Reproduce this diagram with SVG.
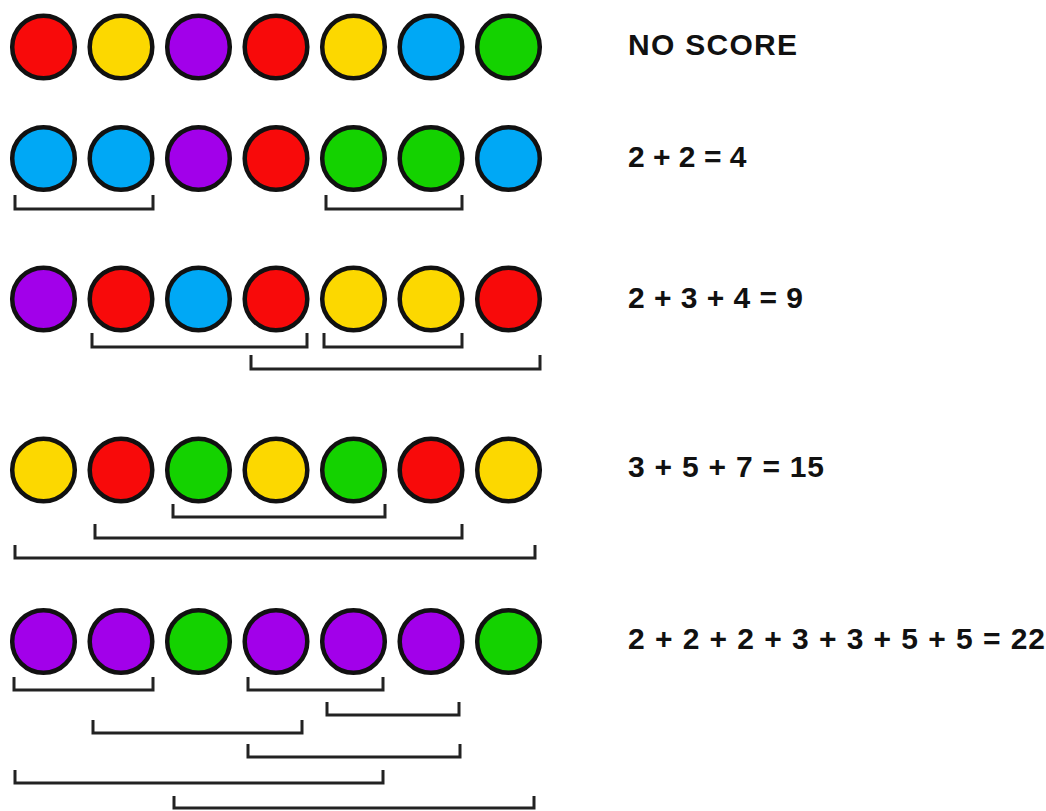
<svg xmlns="http://www.w3.org/2000/svg" width="1046" height="811" viewBox="0 0 1046 811">
<style>
.b{stroke:#111;stroke-width:4.5}
.r{fill:#f80a0a}.y{fill:#fcd800}.p{fill:#a200ea}.c{fill:#00a8f5}.g{fill:#14d200}
.br{fill:none;stroke:#222;stroke-width:3}
.t{font-family:"Liberation Sans",Arial,sans-serif;font-weight:bold;font-size:30px;fill:#111}
</style>
<rect width="1046" height="811" fill="#fff"/>
<defs>
<circle id="o" r="31.3"/>
</defs>
<g id="row1" transform="translate(0,47)">
<use href="#o" x="43.5" class="b r"/><use href="#o" x="121" class="b y"/><use href="#o" x="198.5" class="b p"/><use href="#o" x="276" class="b r"/><use href="#o" x="353.5" class="b y"/><use href="#o" x="431" class="b c"/><use href="#o" x="508.5" class="b g"/>
</g>
<g id="row2" transform="translate(0,158.5)">
<use href="#o" x="43.5" class="b c"/><use href="#o" x="121" class="b c"/><use href="#o" x="198.5" class="b p"/><use href="#o" x="276" class="b r"/><use href="#o" x="353.5" class="b g"/><use href="#o" x="431" class="b g"/><use href="#o" x="508.5" class="b c"/>
</g>
<g id="row3" transform="translate(0,299)">
<use href="#o" x="43.5" class="b p"/><use href="#o" x="121" class="b r"/><use href="#o" x="198.5" class="b c"/><use href="#o" x="276" class="b r"/><use href="#o" x="353.5" class="b y"/><use href="#o" x="431" class="b y"/><use href="#o" x="508.5" class="b r"/>
</g>
<g id="row4" transform="translate(0,470)">
<use href="#o" x="43.5" class="b y"/><use href="#o" x="121" class="b r"/><use href="#o" x="198.5" class="b g"/><use href="#o" x="276" class="b y"/><use href="#o" x="353.5" class="b g"/><use href="#o" x="431" class="b r"/><use href="#o" x="508.5" class="b y"/>
</g>
<g id="row5" transform="translate(0,641.5)">
<use href="#o" x="43.5" class="b p"/><use href="#o" x="121" class="b p"/><use href="#o" x="198.5" class="b g"/><use href="#o" x="276" class="b p"/><use href="#o" x="353.5" class="b p"/><use href="#o" x="431" class="b p"/><use href="#o" x="508.5" class="b g"/>
</g>
<g id="brackets" class="br">
<path d="M15 195V209H153V195"/>
<path d="M326 195V209H462V195"/>
<path d="M92 333V347H307V333"/>
<path d="M324 333V347H462V333"/>
<path d="M251 355V369H540V355"/>
<path d="M173 504V517H385V504"/>
<path d="M95 524V538H462V524"/>
<path d="M15 545V558H535V545"/>
<path d="M14 677V690H153V677"/>
<path d="M248 677V690H383V677"/>
<path d="M327 702V715H459V702"/>
<path d="M93 720V733H302V720"/>
<path d="M248 744V757H460V744"/>
<path d="M15 770V783H383V770"/>
<path d="M174 796V808H534V796"/>
</g>
<g id="labels" class="t">
<text x="628" y="55" textLength="169">NO SCORE</text>
<text x="628" y="167">2 + 2 = 4</text>
<text x="628" y="308" textLength="175">2 + 3 + 4 = 9</text>
<text x="628" y="477" textLength="196">3 + 5 + 7 = 15</text>
<text x="628" y="649" textLength="417">2 + 2 + 2 + 3 + 3 + 5 + 5 = 22</text>
</g>
</svg>
